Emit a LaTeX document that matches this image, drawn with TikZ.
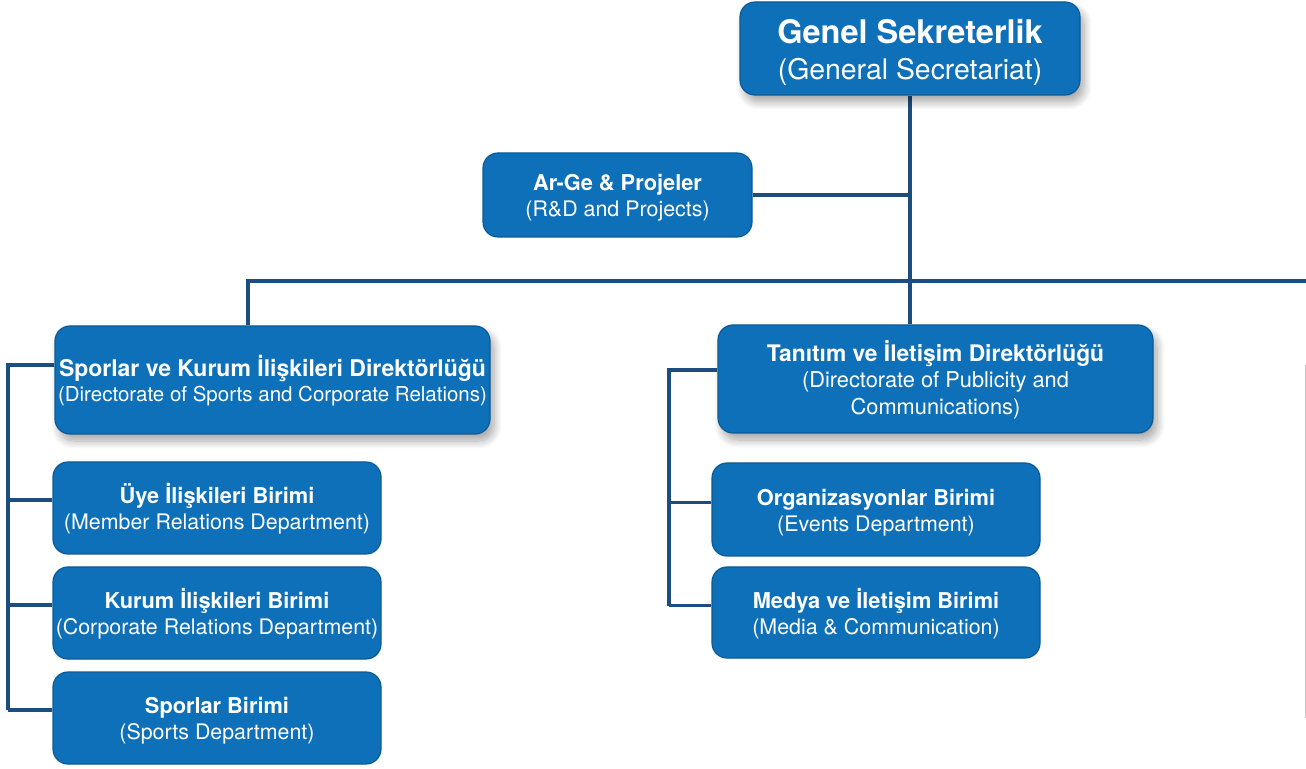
\documentclass[tikz,border=0pt]{standalone}
\usepackage{fontspec}
\setmainfont{TeX Gyre Heros}
\usetikzlibrary{positioning,backgrounds,shadows.blur}

\definecolor{boxblue}{HTML}{0E70B8}
\definecolor{boxedge}{HTML}{0B5A96}
\definecolor{linknavy}{HTML}{1B4E7E}

\tikzset{
  unit/.style={draw=boxedge, line width=0.6pt, fill=boxblue, rounded corners=7.5pt,
    text=white, align=center, inner xsep=0pt, inner ysep=2pt, font=\fontsize{10.7}{13}\selectfont},
  director/.style={unit, blur shadow={shadow xshift=2pt, shadow yshift=-3.5pt,
    shadow blur steps=10, shadow blur radius=4pt, shadow opacity=35}},
  link/.style={draw=linknavy, line width=1.8pt},
}
% bold first line, with a strut so that all boxes set their text alike
\newcommand{\unithead}[2][10.9]{{\fontsize{#1}{13}\selectfont\bfseries\rule{0pt}{11.25pt}#2}}

\begin{document}
\begin{tikzpicture}[x=0.5pt, y=-0.5pt]
  \useasboundingbox (0,0) rectangle (1306,769);

  % Top of the tree
  \node[director, minimum width=170pt, minimum height=46.5pt, font=\fontsize{14.2}{18}\selectfont]
    (gensek) at (910,48.5) {{\fontsize{16.25}{18}\selectfont\bfseries\rule{0pt}{16.25pt}Genel Sekreterlik}\\(General Secretariat)};
  \node[unit, minimum width=134.5pt, minimum height=42pt]
    (arge) at (617.5,195) {\unithead{Ar-Ge \& Projeler}\\(R\&D and Projects)};

  % Directorates
  \node[director, minimum width=217.5pt, minimum height=54pt, font=\fontsize{10.25}{12.7}\selectfont]
    (sporDir) at (272.5,380) {\unithead[11.5]{Sporlar ve Kurum İlişkileri Direktörlüğü}\\(Directorate of Sports and Corporate Relations)};
  \node[director, minimum width=217.5pt, minimum height=54pt, font=\fontsize{10.9}{13.25}\selectfont]
    (tanDir) at (935.5,379) {\unithead[11.4]{Tanıtım ve İletişim Direktörlüğü}\\(Directorate of Publicity and\\Communications)};

  % Left units
  \node[unit, minimum width=164pt, minimum height=46pt]
    (uye) at (217,508) {\unithead{Üye İlişkileri Birimi}\\(Member Relations Department)};
  \node[unit, minimum width=164pt, minimum height=46pt]
    (kurum) at (217,613) {\unithead{Kurum İlişkileri Birimi}\\(Corporate Relations Department)};
  \node[unit, minimum width=164pt, minimum height=46pt]
    (spor) at (217,718) {\unithead{Sporlar Birimi}\\(Sports Department)};

  % Right units
  \node[unit, minimum width=164pt, minimum height=46.5pt]
    (org) at (876,509.5) {\unithead{Organizasyonlar Birimi}\\(Events Department)};
  \node[unit, minimum width=164pt, minimum height=45.5pt]
    (medya) at (876,612.5) {\unithead{Medya ve İletişim Birimi}\\(Media \& Communication)};

  \coordinate (busL) at (248,281);
  \coordinate (busR) at (1306,281);
  \coordinate (brL) at (8,365);
  \coordinate (brR) at (669,370);

  \begin{scope}[on background layer]
    \draw[link] (gensek.south) -- (gensek.south |- tanDir.north);
    \draw[link] (arge.east) -- (arge.east -| gensek.south);
    \draw[link] (busR) -- (busL) -- (busL |- sporDir.north);
    % left bracket
    \draw[link] (brL -| sporDir.west) -- (brL) -- ([yshift=4pt]brL |- spor.west);
    \foreach \u in {uye,kurum,spor}
      \draw[link] ([yshift=4pt]\u.west) -- ([yshift=4pt]brL |- \u.west);
    % right bracket
    \draw[link] (brR -| tanDir.west) -- (brR) -- ([yshift=3.5pt]brR |- medya.west);
    \foreach \u in {org,medya}
      \draw[link] ([yshift=3.5pt]\u.west) -- ([yshift=3.5pt]brR |- \u.west);
  \end{scope}

  % faint edge at the right
  \draw[gray!45, line width=0.4pt] (1305,365) -- (1305,718);
\end{tikzpicture}
\end{document}
